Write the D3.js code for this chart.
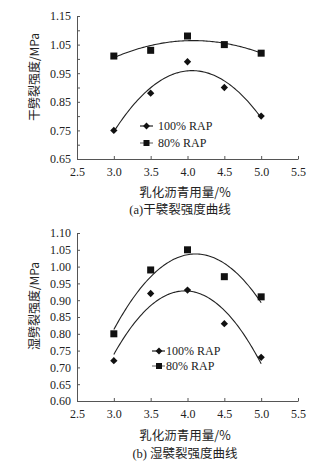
<!DOCTYPE html>
<html>
<head>
<meta charset="utf-8">
<script src="https://cdn.jsdelivr.net/npm/d3@7"></script>
<style>
  body { margin: 0; background: #fff; }
  svg text { fill: #222; }
</style>
</head>
<body>
<div id="chart-area"></div>
<script>
// data
var dosage = [3.0, 3.5, 4.0, 4.5, 5.0];
var xTicks = [2.5, 3.0, 3.5, 4.0, 4.5, 5.0, 5.5];
var seriesNames = ["100% RAP", "80% RAP"];

var dry100 = [0.75, 0.88, 0.99, 0.90, 0.80];
var dry80 = [1.01, 1.03, 1.08, 1.05, 1.02];
var dryTicks = [0.65, 0.70, 0.75, 0.80, 0.85, 0.90, 0.95, 1.00, 1.05, 1.10, 1.15];
var dryLabels = [0.65, 0.75, 0.85, 0.95, 1.05, 1.15];

var wet100 = [0.72, 0.92, 0.93, 0.83, 0.73];
var wet80 = [0.80, 0.99, 1.05, 0.97, 0.91];
var wetTicks = [0.60, 0.65, 0.70, 0.75, 0.80, 0.85, 0.90, 0.95, 1.00, 1.05, 1.10];

var svg = d3.select("#chart-area")
  .append("svg")
  .attr("width", 321)
  .attr("height", 467);

var serif = "'Liberation Serif', 'Times New Roman', serif";
var cjk = "'Noto Sans CJK SC', sans-serif";

// quadratic least squares trend line (like a spreadsheet trendline)
function quadFit(xs, ys) {
  var s = [0, 0, 0, 0, 0], t = [0, 0, 0];
  xs.forEach(function(x, i) {
    for (var k = 0; k < 5; k++) s[k] += Math.pow(x, k);
    for (var k2 = 0; k2 < 3; k2++) t[k2] += ys[i] * Math.pow(x, k2);
  });
  var m = [[s[0], s[1], s[2], t[0]], [s[1], s[2], s[3], t[1]], [s[2], s[3], s[4], t[2]]];
  for (var i = 0; i < 3; i++) {
    for (var j = i + 1; j < 3; j++) {
      var f = m[j][i] / m[i][i];
      for (var k3 = i; k3 < 4; k3++) m[j][k3] -= f * m[i][k3];
    }
  }
  var c = [0, 0, 0];
  for (var r = 2; r >= 0; r--) {
    var v = m[r][3];
    for (var q = r + 1; q < 3; q++) v -= m[r][q] * c[q];
    c[r] = v / m[r][r];
  }
  return function(x) { return c[0] + c[1] * x + c[2] * x * x; };
}

function panel(opt) {
  var x = d3.scaleLinear().domain([2.5, 5.5]).range([77, 298]);
  var y = d3.scaleLinear().domain(opt.yDomain).range(opt.yRange);
  var g = svg.append("g");

  var xAxis = g.append("g")
    .attr("transform", "translate(0," + opt.yRange[0] + ")")
    .call(d3.axisBottom(x).tickValues(xTicks).tickSize(-3).tickSizeOuter(0)
      .tickPadding(8).tickFormat(d3.format(".1f")));

  var yAxis = g.append("g")
    .attr("transform", "translate(77,0)")
    .call(d3.axisLeft(y).tickValues(opt.yTicks).tickSize(-3).tickSizeOuter(0)
      .tickPadding(6).tickFormat(function(d) {
        var lab = opt.yLabels.some(function(v) { return Math.abs(v - d) < 1e-6; });
        return lab ? d3.format(".2f")(d) : "";
      }));

  [xAxis, yAxis].forEach(function(a) {
    a.selectAll("path, line").attr("stroke", "#555");
    a.selectAll("text").attr("font-family", serif).attr("font-size", "12px").attr("fill", "#222");
  });

  // trend lines
  var xs = d3.range(3.0, 5.001, 0.02);
  [opt.s100, opt.s80].forEach(function(vals) {
    var fit = quadFit(dosage, vals);
    g.append("path")
      .datum(xs)
      .attr("fill", "none")
      .attr("stroke", "#222")
      .attr("stroke-width", 1.1)
      .attr("d", d3.line().x(function(d) { return x(d); }).y(function(d) { return y(fit(d)); }));
  });

  // markers
  g.selectAll(".dia")
    .data(opt.s100)
    .enter().append("path")
    .attr("d", d3.symbol().type(d3.symbolDiamond2).size(34))
    .attr("transform", function(d, i) { return "translate(" + x(dosage[i]) + "," + y(d) + ")"; })
    .attr("fill", "#111");

  g.selectAll(".sq")
    .data(opt.s80)
    .enter().append("rect")
    .attr("x", function(d, i) { return x(dosage[i]) - 3.5; })
    .attr("y", function(d) { return y(d) - 3.5; })
    .attr("width", 7)
    .attr("height", 7)
    .attr("fill", "#111");

  // legend
  var lg = opt.legend;
  seriesNames.forEach(function(name, i) {
    var ly = lg.y[i];
    g.append("line")
      .attr("x1", lg.x1).attr("x2", lg.x2)
      .attr("y1", ly).attr("y2", ly)
      .attr("stroke", i === 0 ? "#222" : "#777")
      .attr("stroke-width", 1.2);
    if (i === 0) {
      g.append("path")
        .attr("d", d3.symbol().type(d3.symbolDiamond2).size(30))
        .attr("transform", "translate(" + lg.mx + "," + ly + ")")
        .attr("fill", "#111");
    } else {
      g.append("rect")
        .attr("x", lg.mx - 3).attr("y", ly - 3)
        .attr("width", 6).attr("height", 6)
        .attr("fill", "#111");
    }
    g.append("text")
      .attr("x", lg.tx).attr("y", ly)
      .attr("dominant-baseline", "central")
      .attr("font-family", serif)
      .attr("font-size", "12px")
      .text(name);
  });

  // y title
  g.append("text")
    .attr("transform", "translate(33," + opt.yTitleY + ") rotate(-90)")
    .attr("text-anchor", "middle")
    .attr("dominant-baseline", "central")
    .attr("font-family", cjk)
    .attr("font-size", "12px")
    .attr("fill", "#3a2c22")
    .text(opt.yTitle);

  // x title
  g.append("text")
    .attr("x", 185).attr("y", opt.xTitleY)
    .attr("text-anchor", "middle")
    .attr("dominant-baseline", "central")
    .attr("font-family", cjk)
    .attr("font-size", "12.5px")
    .attr("fill", "#3a2c22")
    .text("乳化沥青用量/%");

  // caption
  g.append("text")
    .attr("x", opt.capX).attr("y", opt.capY)
    .attr("text-anchor", "middle")
    .attr("dominant-baseline", "central")
    .attr("font-family", serif + ", " + cjk)
    .attr("font-size", "12.5px")
    .text(opt.caption);
}

panel({
  yDomain: [0.65, 1.15], yRange: [159, 16],
  yTicks: dryTicks, yLabels: dryLabels,
  s100: dry100, s80: dry80,
  legend: { x1: 140, x2: 153, mx: 146.5, tx: 158, y: [126, 143] },
  yTitle: "干劈裂强度/MPa", yTitleY: 77,
  xTitleY: 191, caption: "(a)干襞裂强度曲线", capX: 180, capY: 210
});

panel({
  yDomain: [0.60, 1.10], yRange: [401, 233],
  yTicks: wetTicks, yLabels: wetTicks,
  s100: wet100, s80: wet80,
  legend: { x1: 152, x2: 165, mx: 159, tx: 166, y: [351, 366] },
  yTitle: "湿劈裂强度/MPa", yTitleY: 306,
  xTitleY: 434, caption: "(b) 湿襞裂强度曲线", capX: 185, capY: 454
});
</script>
</body>
</html>
